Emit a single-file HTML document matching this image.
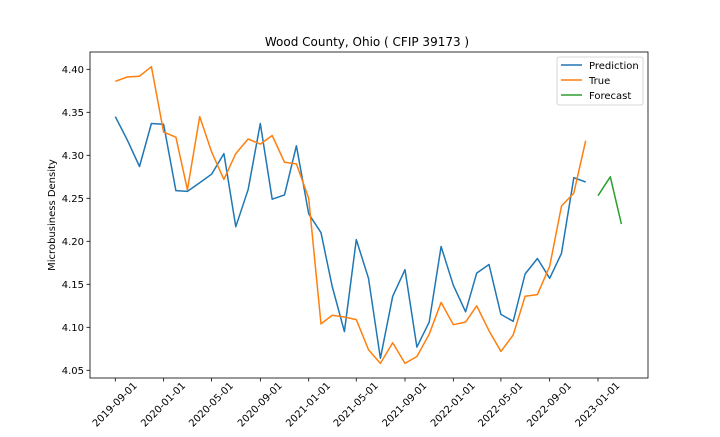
<!DOCTYPE html>
<html><head><meta charset="utf-8"><style>
body{margin:0;background:#fff;}
svg text{font-family:"DejaVu Sans","Liberation Sans",sans-serif;fill:#000;}
</style></head><body>
<svg id="chart" width="720" height="432" xmlns="http://www.w3.org/2000/svg">
<text x="367" y="46" font-size="12" text-anchor="middle">Wood County, Ohio ( CFIP 39173 )</text>
<text transform="translate(55,215) rotate(-90)" font-size="10" text-anchor="middle">Microbusiness Density</text>
<g id="grid"></g>
<g id="series"></g>
<rect x="90" y="52" width="558" height="326" fill="none" stroke="#000" stroke-width="0.8"/>
<g>
<rect x="557" y="57" width="86" height="48" rx="2" fill="#fff" stroke="#ccc" stroke-width="0.8"/>
<g><line x1="561" y1="65" x2="582" y2="65" stroke="#1f77b4" stroke-width="1.5"/><text x="589" y="69" font-size="10">Prediction</text></g>
<g><line x1="561" y1="80" x2="582" y2="80" stroke="#ff7f0e" stroke-width="1.5"/><text x="589" y="84" font-size="10">True</text></g>
<g><line x1="561" y1="95" x2="582" y2="95" stroke="#2ca02c" stroke-width="1.5"/><text x="589" y="99" font-size="10">Forecast</text></g>
</g>
</svg>
<script>
const prediction=[4.345,4.318,4.287,4.337,4.336,4.259,4.258,4.268,4.278,4.302,4.217,4.260,4.337,4.249,4.254,4.311,4.232,4.210,4.148,4.095,4.202,4.157,4.064,4.136,4.167,4.077,4.106,4.194,4.149,4.118,4.163,4.173,4.115,4.107,4.162,4.180,4.157,4.186,4.274,4.269];
const trueVals=[4.386,4.391,4.392,4.403,4.327,4.321,4.260,4.345,4.304,4.272,4.302,4.319,4.313,4.323,4.292,4.290,4.250,4.104,4.114,4.112,4.109,4.074,4.058,4.082,4.058,4.066,4.092,4.129,4.103,4.106,4.125,4.096,4.072,4.091,4.136,4.138,4.171,4.241,4.256,4.317];
const forecast=[4.253,4.275,4.220];
const yTicks=[4.05,4.10,4.15,4.20,4.25,4.30,4.35,4.40];
const xTickLabels=["2019-09-01","2020-01-01","2020-05-01","2020-09-01","2021-01-01","2021-05-01","2021-09-01","2022-01-01","2022-05-01","2022-09-01","2023-01-01"];
const startMonth="2019-09-01";
const forecastStart="2023-01-01";

const NS="http://www.w3.org/2000/svg";
const t0=Date.UTC(2019,8,1), t1=Date.UTC(2023,0,1);
function parse(s){const p=s.split('-');return Date.UTC(+p[0],+p[1]-1,+p[2]);}
function xs(t){return 115.3+(t-t0)/(t1-t0)*(598-115.3);}
function ys(v){return 370.3-(v-4.05)/0.35*(370.3-69.3);}
function monthT(base,i){const d=new Date(parse(base));return Date.UTC(d.getUTCFullYear(),d.getUTCMonth()+i,1);}
const grid=document.getElementById('grid'), ser=document.getElementById('series');
function el(tag,attrs,parent){const e=document.createElementNS(NS,tag);for(const k in attrs)e.setAttribute(k,attrs[k]);parent.appendChild(e);return e;}
yTicks.forEach(v=>{const y=ys(v);
 const l=el('line',{x1:86.5,x2:90,y1:y,y2:y,stroke:'#000','stroke-width':0.8},grid);
 
 
 const t=el('text',{x:84,y:y+3.5,'font-size':10,'text-anchor':'end'},grid);t.textContent=v.toFixed(2);
 
 
});
xTickLabels.forEach(s=>{const x=xs(parse(s));
 const l=el('line',{x1:x,x2:x,y1:378,y2:381.5,stroke:'#000','stroke-width':0.8},grid);
 
 
 const t=el('text',{x:0,y:0,'font-size':10,'text-anchor':'middle','dominant-baseline':'central',transform:`translate(${x},${405}) rotate(-45)`},grid);t.textContent=s;
 
 
});
function line(vals,base,color,name){
 const pts=vals.map((v,i)=>xs(monthT(base,i)).toFixed(1)+','+ys(v).toFixed(1)).join(' ');
 const p=el('polyline',{points:pts,fill:'none',stroke:color,'stroke-width':1.5,'stroke-linejoin':'round'},ser);
 
 
}
line(prediction,startMonth,'#1f77b4','prediction-line');
line(trueVals,startMonth,'#ff7f0e','true-line');
line(forecast,forecastStart,'#2ca02c','forecast-line');
</script>
</body></html>
